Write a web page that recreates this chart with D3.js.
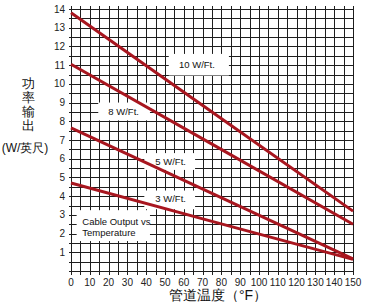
<!DOCTYPE html>
<html>
<head>
<meta charset="utf-8">
<script src="https://cdn.jsdelivr.net/npm/d3@7"></script>
<style>
  body { margin: 0; background: #fff; }
  text { font-family: "Liberation Sans", Arial, sans-serif; }
</style>
</head>
<body>
<div id="chart"></div>
<script>
// temperature points (°F) and output per series (W/Ft.)
var temps = [0, 75, 150];
var out10 = [13.8, 8.5, 3.2];
var out8 = [11.05, 6.78, 2.5];
var out5 = [7.65, 4.15, 0.65];
var out3 = [4.7, 2.65, 0.62];
var seriesNames = ["10 W/Ft.", "8 W/Ft.", "5 W/Ft.", "3 W/Ft."];
var xTicks = d3.range(0, 151, 10);
var yTicks = d3.range(1, 15, 1);

var width = 366, height = 302;
var svg = d3.select("#chart").append("svg")
    .attr("width", width)
    .attr("height", height);

var x = d3.scaleLinear().domain([0, 150]).range([71, 353]);
var y = d3.scaleLinear().domain([0, 14]).range([271, 9]);

var grid = svg.append("g").attr("stroke", "#1e1e1e").attr("stroke-width", 1);

// vertical grid lines every 5 °F, with little stubs below the axis
grid.selectAll("line.v")
  .data(d3.range(0, 151, 5))
  .enter().append("line")
    .attr("class", "v")
    .attr("x1", function(d) { return Math.round(x(d)) + 0.5; })
    .attr("x2", function(d) { return Math.round(x(d)) + 0.5; })
    .attr("y1", y(14) - 3)
    .attr("y2", y(0) + 4);

// horizontal grid lines every 0.5
grid.selectAll("line.h")
  .data(d3.range(0, 14.01, 0.5))
  .enter().append("line")
    .attr("class", "h")
    .attr("x1", x(0) - 2)
    .attr("x2", x(150))
    .attr("y1", function(d) { return Math.round(y(d)) + 0.5; })
    .attr("y2", function(d) { return Math.round(y(d)) + 0.5; });

// white boxes behind the labels (grid blanked out there)
var boxes = [
  { x0: 52, x1: 84, y0: 11.6, y1: 10.45 },
  { x0: 14.5, x1: 42, y0: 9.0, y1: 8.05 },
  { x0: 39, x1: 66, y0: 6.3, y1: 5.4 },
  { x0: 39, x1: 66, y0: 4.3, y1: 3.3 },
  { x0: 3, x1: 42, y0: 3.25, y1: 1.6 }
];
svg.selectAll("rect.box")
  .data(boxes)
  .enter().append("rect")
    .attr("class", "box")
    .attr("x", function(d) { return x(d.x0); })
    .attr("y", function(d) { return y(d.y0); })
    .attr("width", function(d) { return x(d.x1) - x(d.x0); })
    .attr("height", function(d) { return y(d.y1) - y(d.y0); })
    .attr("fill", "#fff");

// series lines
var allSeries = [out10, out8, out5, out3];
var line = d3.line()
    .x(function(d, i) { return x(temps[i]); })
    .y(function(d) { return y(d); });

svg.selectAll("path.series")
  .data(allSeries)
  .enter().append("path")
    .attr("class", "series")
    .attr("d", line)
    .attr("fill", "none")
    .attr("stroke", "#a8161f")
    .attr("stroke-width", 3);

// series labels
var labelPos = [[67, 11.0], [28, 8.5], [53, 5.85], [53, 3.85]];
svg.selectAll("text.slabel")
  .data(seriesNames)
  .enter().append("text")
    .attr("class", "slabel")
    .attr("x", function(d, i) { return x(labelPos[i][0]); })
    .attr("y", function(d, i) { return y(labelPos[i][1]); })
    .attr("dy", "0.35em")
    .attr("text-anchor", "middle")
    .attr("font-size", 9.5)
    .attr("fill", "#111")
    .text(function(d) { return d; });

svg.append("text")
    .attr("x", x(6)).attr("y", y(2.45))
    .attr("font-size", 9.5).attr("fill", "#111")
    .text("Cable Output vs");
svg.append("text")
    .attr("x", x(6)).attr("y", y(1.85))
    .attr("font-size", 9.5).attr("fill", "#111")
    .text("Temperature");

// tick labels
svg.selectAll("text.ytick")
  .data(yTicks)
  .enter().append("text")
    .attr("class", "ytick")
    .attr("x", 65)
    .attr("y", function(d) { return y(d); })
    .attr("dy", "0.35em")
    .attr("text-anchor", "end")
    .attr("font-size", 10)
    .attr("fill", "#222")
    .text(function(d) { return d; });

svg.selectAll("text.xtick")
  .data(xTicks)
  .enter().append("text")
    .attr("class", "xtick")
    .attr("x", function(d) { return x(d); })
    .attr("y", 286)
    .attr("text-anchor", "middle")
    .attr("font-size", 10)
    .attr("fill", "#222")
    .text(function(d) { return d; });

// axis titles
var yTitle = ["功", "率", "输", "出"];
svg.selectAll("text.ytitle")
  .data(yTitle)
  .enter().append("text")
    .attr("class", "ytitle")
    .attr("x", 28)
    .attr("y", function(d, i) { return 88 + i * 14; })
    .attr("text-anchor", "middle")
    .attr("font-size", 13)
    .attr("font-family", "Noto Sans CJK SC")
    .attr("fill", "#111")
    .text(function(d) { return d; });

svg.append("text")
    .attr("x", 25).attr("y", 152)
    .attr("text-anchor", "middle")
    .attr("font-size", 12)
    .attr("font-family", "Noto Sans CJK SC")
    .attr("fill", "#111")
    .text("(W/英尺)");

svg.append("text")
    .attr("x", 218).attr("y", 300)
    .attr("text-anchor", "middle")
    .attr("font-size", 14)
    .attr("font-family", "Noto Sans CJK SC")
    .attr("fill", "#111")
    .text("管道温度（°F）");
</script>
</body>
</html>
